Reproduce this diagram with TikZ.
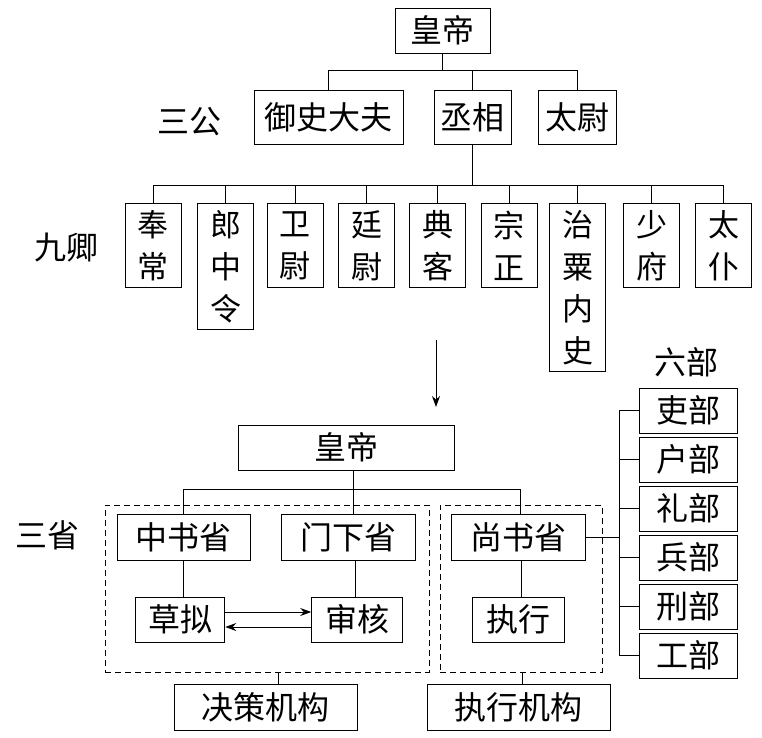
\documentclass[tikz,border=0pt]{standalone}
\usepackage{fontspec}
\newfontfamily\cjk{Noto Sans CJK SC}
\usetikzlibrary{arrows.meta}
\tikzset{
  box/.style={draw, line width=1pt, inner sep=0pt, align=center,
    font=\cjk\fontsize{32}{36}\selectfont},
  vbox/.style={draw, line width=1pt, inner sep=0pt, align=center, minimum width=56pt,
    font=\cjk\fontsize{31}{42}\selectfont},
  bu/.style={draw, line width=1pt, inner sep=0pt, minimum width=98pt, minimum height=45pt,
    font=\cjk\fontsize{32}{36}\selectfont},
  lbl/.style={inner sep=0pt, font=\cjk\fontsize{32}{36}\selectfont},
  conn/.style={line width=1pt},
  dbox/.style={draw, line width=1pt, dash pattern=on 6pt off 4pt, inner sep=0pt},
  arr/.style={line width=1pt, -{Stealth[length=11pt,width=8pt]}}
}
\begin{document}
\begin{tikzpicture}[x=1pt,y=-1pt]
\useasboundingbox (0,0) rectangle (762,737);
% top part
\node[box, minimum width=95pt, minimum height=45pt] (emp1) at (442.5,30.5) {皇帝};
\node[box, minimum width=149pt, minimum height=54pt] (yushi) at (328.5,117.5) {御史大夫};
\node[box, minimum width=77pt, minimum height=54pt] (cheng) at (472.5,117.5) {丞相};
\node[box, minimum width=78pt, minimum height=54pt] (taiwei) at (577,117.5) {太尉};
\node[lbl] (sangong) at (189,122) {三公};
\coordinate (bus1) at (442.5,70);
\draw[conn] (emp1.south) -- (bus1);
\draw[conn] (yushi.north) -- (yushi.north |- bus1) -- (taiwei.north |- bus1) -- (taiwei.north);
\draw[conn] (cheng.north) -- (cheng.north |- bus1);
% nine ministers
\node[lbl] (jiuqing) at (66,248) {九卿};
\node[vbox, minimum height=84pt, anchor=north] (q1) at (153,203) {奉\\常};
\node[vbox, minimum height=126pt, anchor=north] (q2) at (225.5,203) {郎\\中\\令};
\node[vbox, minimum height=84pt, anchor=north] (q3) at (295,203) {卫\\尉};
\node[vbox, minimum height=84pt, anchor=north] (q4) at (366.5,203) {廷\\尉};
\node[vbox, minimum height=84pt, anchor=north] (q5) at (437.5,203) {典\\客};
\node[vbox, minimum height=84pt, anchor=north] (q6) at (509,203) {宗\\正};
\node[vbox, minimum height=168pt, anchor=north] (q7) at (577.5,203) {治\\粟\\内\\史};
\node[vbox, minimum height=84pt, anchor=north] (q8) at (651.5,203) {少\\府};
\node[vbox, minimum height=84pt, anchor=north] (q9) at (723.5,203) {太\\仆};
\coordinate (bus2) at (472.5,185);
\draw[conn] (cheng.south) -- (bus2);
\draw[conn] (q1.north) -- (q1.north |- bus2) -- (q9.north |- bus2) -- (q9.north);
\foreach \i in {2,...,8} { \draw[conn] (q\i.north) -- (q\i.north |- bus2); }
% arrow
\coordinate (arS) at (436,340);
\coordinate (arE) at (436,407);
\draw[arr] (arS) -- (arE);
% bottom part
\node[box, minimum width=216pt, minimum height=45pt] (emp2) at (346,447.5) {皇帝};
\node[lbl] (sansheng) at (48,535) {三省};
\node[dbox, minimum width=324pt, minimum height=167pt] (dec) at (267,588.5) {};
\node[dbox, minimum width=162pt, minimum height=167pt] (exe) at (521,588.5) {};
\node[box, minimum width=133pt, minimum height=46pt] (zsx) at (183.5,537) {中书省};
\node[box, minimum width=134pt, minimum height=46pt] (mxx) at (348,537) {门下省};
\node[box, minimum width=134pt, minimum height=46pt] (ssx) at (518,537) {尚书省};
\coordinate (bus3) at (353,489);
\draw[conn] (emp2.south -| bus3) -- (bus3);
\draw[conn] (zsx.north) -- (zsx.north |- bus3) -- ([xshift=2pt]ssx.north |- bus3) -- ([xshift=2pt]ssx.north);
\draw[conn] (bus3) -- (mxx.north -| bus3);
\node[box, minimum width=89.5pt, minimum height=45pt] (cn) at (180,619.5) {草拟};
\node[box, minimum width=90.5pt, minimum height=45pt] (sh) at (357,619.5) {审核};
\node[box, minimum width=92pt, minimum height=45pt] (zx) at (518,619.5) {执行};
\draw[conn] (zsx.south) -- (zsx.south |- cn.north);
\draw[conn] ([xshift=-2pt]sh.north |- mxx.south) -- ([xshift=-2pt]sh.north);
\draw[conn] ([xshift=3pt]zx.north |- ssx.south) -- ([xshift=3pt]zx.north);
\draw[arr] ([yshift=7.5pt]cn.east) -- ([yshift=7.5pt]sh.west);
\draw[arr] ([yshift=-7.5pt]sh.west) -- ([yshift=-7.5pt]cn.east);
\node[box, minimum width=183pt, minimum height=46pt] (jc) at (265.5,707) {决策机构};
\node[box, minimum width=183pt, minimum height=46pt] (zxjg) at (518.5,707) {执行机构};
\draw[conn] ([xshift=11pt]dec.south) -- ([xshift=11pt]dec.south |- jc.north);
\draw[conn] ([xshift=1pt]exe.south) -- ([xshift=1pt]exe.south |- zxjg.north);
% six ministries
\node[lbl] (liubu) at (686,362) {六部};
\node[bu] (b1) at (688,410.5) {吏部};
\node[bu] (b2) at (688,459.5) {户部};
\node[bu] (b3) at (688,508.5) {礼部};
\node[bu] (b4) at (688,557.5) {兵部};
\node[bu] (b5) at (688,606.5) {刑部};
\node[bu] (b6) at (688,655.5) {工部};
\coordinate (brk) at (619,537);
\draw[conn] (ssx.east) -- (ssx.east -| brk);
\draw[conn] (b1.west) -- (b1.west -| brk) -- (b6.west -| brk) -- (b6.west);
\foreach \i in {2,...,5} { \draw[conn] (b\i.west) -- (b\i.west -| brk); }
\end{tikzpicture}
\end{document}
